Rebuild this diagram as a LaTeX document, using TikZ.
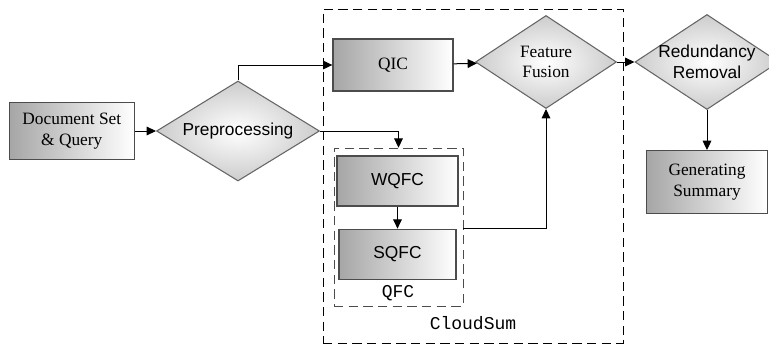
\documentclass[tikz,border=0pt]{standalone}
\usepackage{fontspec}
\setmainfont{Liberation Serif}
\setsansfont{Liberation Sans}
\setmonofont{Liberation Mono}
\usetikzlibrary{arrows.meta,positioning,shapes.geometric,backgrounds}

\begin{document}
\begin{tikzpicture}[
        %Environment Cfg.
        x=0.75pt,y=0.75pt,
        >={Triangle[length=7pt,width=6.5pt]},%from arrows.meta
        line width=0.75pt,
        %Environment Styles.
        sBox/.style={
            rectangle,
            draw=black!70,
            line width=1pt,
            left color=black!35,
            right color=white,
            inner sep=2pt,
            align=center,
            font=\fontsize{13}{15.5}\selectfont
        },
        dBox/.style={
            diamond,
            draw=black!60,
            line width=0.8pt,
            inner color=white,
            outer color=black!20,
            inner sep=-4pt,
            aspect=1.5,
            align=center,
            font=\fontsize{13}{15.5}\selectfont
        },
        gBox/.style={
            rectangle,
            dash pattern=on 7pt off 4pt,
            inner sep=0pt
        },
        tag/.style={
            font=\ttfamily\fontsize{13.5}{15}\selectfont
        },
    ]
    \useasboundingbox (0,0) rectangle (769,344);

    %Main chain.
    \node[dBox, minimum width=122.25pt, minimum height=75pt] (pre) at (238,213)
        {\sffamily Preprocessing};
    \node[sBox, minimum width=93.75pt, minimum height=42.75pt, left=15.75pt of pre] (doc)
        {Document Set\\\& Query};
    \node[sBox, minimum width=90pt, minimum height=39pt] (qic) at (393,279) {QIC};
    \node[dBox, minimum width=105.75pt, minimum height=69.75pt] (ff) at (546,282)
        {Feature\\Fusion};
    \node[dBox, minimum width=108pt, minimum height=71.25pt] (rr) at (707,282)
        {\sffamily Redundancy\\\sffamily Removal};
    \node[sBox, minimum width=90.75pt, minimum height=47.25pt, below=30pt of rr] (gs)
        {Generating\\Summary};

    %QFC part.
    \node[sBox, minimum width=90.75pt, minimum height=37.5pt] (wqfc) at (397.5,163)
        {\sffamily WQFC};
    \node[sBox, minimum width=87.75pt, minimum height=37.5pt, below=16.5pt of wqfc] (sqfc)
        {\sffamily SQFC};

    \begin{scope}[on background layer] % from tikzlibrary backgrounds
        \node[gBox, draw=black!70, minimum width=96.75pt, minimum height=118.5pt] (qfc) at (398.5,117) {};
        \node[gBox, draw=black, minimum width=225pt, minimum height=250.5pt] (cs) at (473,168) {};
    \end{scope}
    \node[tag] (qfcname) at (398,51) {QFC};
    \node[tag] (csname) at (473,21) {CloudSum};

    %Connectors.
    \draw[->] (doc) -- (pre);
    \draw[->] (pre.north) |- (qic);
    \draw[->] (pre.east) -| (qfc.north);
    \draw[->] (wqfc) -- (sqfc);
    \draw[->] (sqfc.north -| qfc.east) -| (ff.south);
    \draw[->] (qic) -- (ff);
    \draw[->] (ff) -- (rr);
    \draw[->] (rr) -- (gs);

\end{tikzpicture}
\end{document}
